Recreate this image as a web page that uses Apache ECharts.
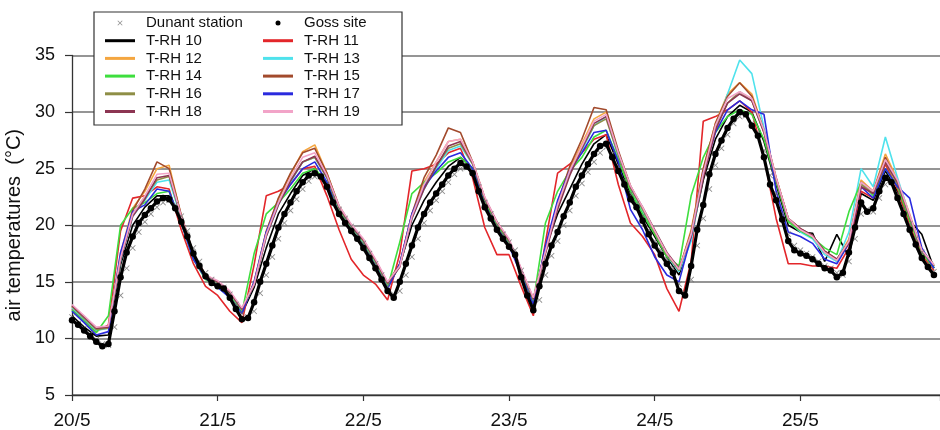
<!DOCTYPE html>
<html>
<head>
<meta charset="utf-8">
<script src="https://cdn.jsdelivr.net/npm/echarts@6/dist/echarts.min.js"></script>
<style>html,body{margin:0;padding:0;background:#fff;}#c{width:940px;height:430px;}</style>
</head>
<body>
<div id="c"></div>
<script>
// ---- DATA ----
const xTickLabels = ['20/5','21/5','22/5','23/5','24/5','25/5'];
const yTicks = [5,10,15,20,25,30,35];

// hours since 20/5 00:00, hourly (Goss / Dunant)
const hours1 = [0,1,2,3,4,5,6,7,8,9,10,11,12,13,14,15,16,17,18,19,20,21,22,23,
24,25,26,27,28,29,30,31,32,33,34,35,36,37,38,39,40,41,42,43,44,45,46,47,
48,49,50,51,52,53,54,55,56,57,58,59,60,61,62,63,64,65,66,67,68,69,70,71,
72,73,74,75,76,77,78,79,80,81,82,83,84,85,86,87,88,89,90,91,92,93,94,95,
96,97,98,99,100,101,102,103,104,105,106,107,108,109,110,111,112,113,114,115,116,117,118,119,
120,121,122,123,124,125,126,127,128,129,130,131,132,133,134,135,136,137,138,139,140,141,142];
// hours since 20/5 00:00, every 2 h (T-RH loggers)
const hours2 = [0,2,4,6,8,10,12,14,16,18,20,22,
24,26,28,30,32,34,36,38,40,42,44,46,
48,50,52,54,56,58,60,62,64,66,68,70,
72,74,76,78,80,82,84,86,88,90,92,94,
96,98,100,102,104,106,108,110,112,114,116,118,
120,122,124,126,128,130,132,134,136,138,140,142];

const gossSite = [
11.6,11.2,10.7,10.2,9.7,9.3,9.5,12.4,15.4,17.6,19.0,20.2,20.9,21.5,22.1,22.4,22.3,21.5,20.3,19.0,17.5,16.4,15.5,14.9,
14.6,14.4,13.6,12.6,11.7,11.8,13.2,15.0,16.6,18.2,19.8,21.0,22.0,23.0,23.8,24.4,24.6,24.3,23.4,22.0,21.0,20.2,19.5,18.8,
18.0,17.1,16.2,15.2,14.2,13.6,15.0,16.6,18.2,19.8,21.0,22.0,22.8,23.6,24.4,25.0,25.5,25.2,24.6,23.0,21.6,20.6,19.6,18.8,
18.1,17.4,15.4,13.8,12.5,14.6,16.6,18.2,19.4,20.8,22.0,23.4,24.4,25.4,26.3,27.0,27.2,26.0,24.8,23.6,22.3,21.6,20.4,19.2,
18.2,17.4,16.6,15.8,14.2,13.8,16.4,19.6,21.8,24.5,26.3,27.5,28.6,29.4,30.0,29.8,28.8,27.9,26.0,23.6,22.2,20.5,18.6,17.8,
17.5,17.3,17.0,16.6,16.2,16.0,15.4,15.8,17.6,19.8,22.0,21.2,21.5,23.0,24.2,23.8,22.4,21.0,19.6,18.3,17.1,16.3,15.6];

const dunantStation = [
11.9,11.3,10.9,10.4,9.9,9.5,9.4,11.0,13.8,16.2,18.0,19.4,20.3,21.0,21.6,22.0,22.2,21.8,20.8,19.5,18.0,16.8,15.8,15.2,
14.8,14.5,13.9,13.0,12.2,11.9,12.4,14.0,15.6,17.2,18.8,20.2,21.3,22.3,23.2,23.9,24.3,24.3,23.6,22.4,21.4,20.6,19.9,19.2,
18.4,17.5,16.6,15.6,14.6,13.9,14.2,15.6,17.2,18.8,20.2,21.3,22.2,23.0,23.8,24.5,25.0,25.1,24.7,23.4,22.0,21.0,20.0,19.2,
18.5,17.8,16.0,14.2,12.9,13.4,15.6,17.3,18.6,20.0,21.3,22.6,23.7,24.7,25.6,26.4,26.9,26.3,25.2,24.0,22.8,21.9,20.8,19.6,
18.6,17.8,17.0,16.2,14.8,14.0,15.2,18.2,20.6,23.2,25.3,26.8,28.0,29.0,29.6,29.7,29.0,28.2,26.6,24.4,22.8,21.0,19.2,18.2,
17.8,17.5,17.2,16.8,16.4,16.2,15.8,15.6,16.8,18.8,21.0,21.4,21.2,22.4,23.6,23.8,22.8,21.5,20.1,18.8,17.6,16.6,15.9];

const trh10 = [12.0,11.0,10.2,10.3,16.5,20.0,21.6,22.6,22.6,20.3,17.2,15.4,
14.8,13.9,12.2,14.5,18.0,21.0,22.8,24.4,25.0,23.6,21.0,19.6,
18.2,16.4,14.5,16.5,20.0,22.2,23.8,25.2,26.0,25.0,22.0,19.9,
18.4,15.8,13.0,18.0,21.0,23.2,25.4,27.2,28.0,25.4,22.8,20.8,
19.0,17.2,15.6,19.0,24.0,27.6,29.6,30.6,30.0,27.4,23.6,20.0,
19.4,19.3,16.8,19.2,17.2,22.8,22.2,24.8,23.0,20.4,19.2,16.2];
const trh11 = [12.6,11.6,10.6,11.2,19.5,22.4,22.6,23.4,23.2,19.6,16.6,14.6,
13.8,12.4,11.4,16.5,22.6,23.0,23.6,25.0,25.2,22.6,19.6,17.0,
15.6,14.8,13.4,17.5,24.8,25.0,25.4,26.4,26.8,24.2,19.8,17.4,
17.4,14.6,12.0,18.5,24.6,25.4,26.4,27.6,28.0,23.6,20.2,19.0,
17.4,14.4,12.4,16.8,29.2,29.6,30.2,31.0,30.0,26.0,20.6,16.6,
16.6,16.4,16.4,16.2,18.0,23.0,22.4,25.4,23.2,20.0,17.4,16.0];
const trh12 = [12.8,11.8,10.8,11.0,17.5,21.5,23.0,25.0,25.3,20.8,17.4,15.6,
14.9,14.0,12.5,15.0,19.5,22.3,24.5,26.5,27.1,24.6,21.6,19.9,
18.6,16.8,14.8,16.5,21.0,23.8,25.6,27.4,27.6,25.6,22.4,20.2,
18.6,16.0,13.4,18.0,22.0,25.0,27.2,29.4,30.0,26.4,23.4,21.4,
19.4,17.4,16.0,19.6,25.0,29.0,31.6,32.6,31.6,28.4,24.2,20.6,
19.6,19.0,17.6,16.9,18.8,24.0,23.0,26.3,24.0,21.0,17.8,16.4];
const trh13 = [12.7,11.7,10.7,10.9,16.8,20.8,22.2,23.8,24.0,20.6,17.3,15.4,
14.8,13.9,12.4,14.8,19.0,21.8,23.8,25.6,26.0,24.2,21.4,19.8,
18.5,16.7,14.7,16.4,20.6,23.2,25.0,26.6,27.0,25.4,22.3,20.1,
18.5,15.9,13.3,17.8,21.6,24.6,26.6,28.8,29.6,26.0,23.2,21.2,
19.3,17.3,15.9,18.6,24.4,28.6,31.6,34.6,33.4,28.6,24.0,20.4,
19.4,18.8,17.4,16.8,19.4,25.0,23.4,27.8,24.2,20.8,17.7,16.3];
const trh14 = [12.5,11.5,10.5,12.0,20.0,21.5,22.0,22.8,23.0,20.2,17.0,15.2,
14.6,13.7,12.3,17.5,21.0,22.0,23.2,24.6,25.0,23.8,21.2,19.6,
18.3,16.5,14.5,18.5,22.8,23.8,24.6,25.6,26.0,25.0,22.2,20.0,
18.4,15.8,13.2,20.2,23.0,24.8,26.0,27.8,28.4,25.8,23.0,21.0,
19.2,17.2,16.4,22.6,26.0,28.2,29.6,30.2,29.8,27.6,23.8,20.3,
19.5,18.9,18.0,17.4,21.2,23.8,22.6,25.0,23.4,20.4,17.6,16.2];
const trh15 = [12.9,11.9,10.9,11.0,17.2,21.3,23.2,25.6,25.0,20.9,17.5,15.6,
15.0,14.1,12.6,14.8,19.4,22.4,24.6,26.4,26.8,24.6,21.7,20.0,
18.7,16.9,14.9,16.6,21.0,24.2,26.2,28.6,28.2,25.6,22.4,20.3,
18.7,16.1,13.5,17.8,22.0,25.2,27.6,30.4,30.2,26.6,23.5,21.5,
19.5,17.5,16.1,19.4,25.0,29.0,31.4,32.6,31.4,28.4,24.2,20.6,
19.7,19.1,17.7,17.0,18.6,23.8,23.0,26.0,23.8,20.8,17.8,16.4];
const trh16 = [12.8,11.8,10.8,10.9,17.0,21.0,22.5,24.0,24.3,20.7,17.4,15.5,
14.9,14.0,12.5,14.9,19.2,22.0,24.0,25.6,26.0,24.2,21.5,19.9,
18.6,16.8,14.8,16.4,20.8,23.4,25.2,26.8,27.2,25.4,22.3,20.2,
18.6,16.0,13.4,17.6,21.6,24.6,26.8,28.8,29.4,26.2,23.3,21.4,
19.4,17.4,16.0,19.2,24.6,28.6,30.8,31.8,31.0,28.2,24.0,20.5,
19.6,19.0,17.6,16.9,18.6,23.6,22.8,25.6,23.6,20.7,17.7,16.4];
const trh17 = [12.4,11.4,10.3,10.6,17.6,21.2,21.8,23.2,23.0,20.2,17.0,15.3,
14.5,13.6,12.2,15.0,19.4,22.0,23.6,25.0,25.6,23.8,21.0,19.4,
18.2,16.4,14.4,16.6,21.0,23.4,24.8,26.0,26.4,25.0,21.8,19.8,
18.2,15.6,13.0,18.2,22.2,24.8,26.4,28.2,28.4,25.6,21.4,19.6,
17.2,15.6,15.0,19.0,24.6,28.2,30.2,31.0,30.2,29.8,23.0,19.4,
19.0,18.4,17.0,16.6,18.4,23.4,22.4,25.0,23.4,22.4,18.0,16.2];
const trh18 = [12.9,11.9,10.9,11.0,16.9,20.8,22.3,24.2,24.4,20.8,17.4,15.5,
15.0,14.1,12.6,14.7,19.0,21.8,23.9,25.6,26.1,24.3,21.6,20.0,
18.7,16.9,14.9,16.3,20.6,23.2,25.2,27.0,27.4,25.5,22.4,20.3,
18.7,16.1,13.5,17.5,21.4,24.4,26.8,29.0,29.6,26.4,23.4,21.6,
19.6,17.6,16.2,19.0,24.2,28.4,30.8,31.6,31.0,28.2,24.1,20.6,
19.7,19.1,17.7,17.0,18.4,23.4,22.8,25.6,23.8,20.8,17.8,16.5];
const trh19 = [13.0,12.0,11.0,11.1,17.1,21.0,22.6,24.5,24.6,20.8,17.5,15.6,
15.1,14.2,12.7,14.8,19.2,22.0,24.2,26.0,26.4,24.4,21.7,20.1,
18.8,17.0,15.0,16.4,20.8,23.6,25.6,27.4,27.6,25.6,22.5,20.3,
18.8,16.2,13.6,17.7,21.8,24.8,27.0,29.2,29.8,26.4,23.5,21.6,
19.5,17.5,16.1,19.2,24.6,28.8,31.2,31.8,31.2,28.4,24.2,20.6,
19.6,19.0,17.6,16.9,18.6,23.8,23.0,25.8,24.0,20.9,17.8,16.5];

const loggerNames = ['T-RH 10','T-RH 11','T-RH 12','T-RH 13','T-RH 14','T-RH 15','T-RH 16','T-RH 17','T-RH 18','T-RH 19'];
const loggerValues = [trh10,trh11,trh12,trh13,trh14,trh15,trh16,trh17,trh18,trh19];
const loggerColors = ['#000000','#e3262a','#f4a640','#4fe2ec','#3ede3e','#a24a2c','#8e8e46','#2a2ade','#8c3552','#f2a4c8'];

// ---- CHART ----
const FONT = "'Liberation Sans', Arial, sans-serif";
const crossPath = 'path://M0,1L1,0L5,4L9,0L10,1L6,5L10,9L9,10L5,6L1,10L0,9L4,5Z';
const barIcon = 'path://M0,0H30V3H0Z';

const series = [];
loggerNames.forEach((n, k) => {
  series.push({
    name: n, type: 'line', symbol: 'none', z: 2,
    lineStyle: { color: loggerColors[k], width: 1.6 },
    itemStyle: { color: loggerColors[k] },
    data: hours2.map((h, i) => [h, loggerValues[k][i]])
  });
});
series.push({
  name: 'Dunant station', type: 'scatter', symbol: crossPath, symbolSize: 6, z: 3,
  itemStyle: { color: '#6e6e6e' },
  data: hours1.map((h, i) => [h, dunantStation[i]])
});
series.push({
  name: 'Goss site', type: 'line', symbol: 'circle', symbolSize: 6.5, showSymbol: true, z: 4,
  lineStyle: { color: '#000', width: 3.2 },
  itemStyle: { color: '#000' },
  data: hours1.map((h, i) => [h, gossSite[i]])
});

const legendCommon = {
  orient: 'vertical', top: 15.5, padding: 0, itemWidth: 30, itemHeight: 5, itemGap: 2.7,
  selectedMode: false,
  textStyle: { fontFamily: FONT, fontSize: 15, color: '#111', lineHeight: 15, padding: [0, 0, 0, 6] }
};
const legendItem = n => ({ name: n, icon: barIcon });

const chart = echarts.init(document.getElementById('c'), null, { renderer: 'canvas' });
chart.setOption({
  animation: false,
  backgroundColor: '#fff',
  grid: { left: 72, right: 0, top: 55.5, bottom: 35, containLabel: false, outerBoundsMode: 'none' },
  xAxis: {
    type: 'value', min: 0, max: 143, interval: 24,
    axisLine: { show: true, lineStyle: { color: '#333', width: 1.3 } },
    axisTick: { show: true, length: 6, lineStyle: { color: '#333', width: 1.2 } },
    splitLine: { show: false },
    axisLabel: {
      margin: 16, fontFamily: FONT, fontSize: 19, color: '#111',
      formatter: v => (v % 24 === 0 && xTickLabels[v / 24] !== undefined) ? xTickLabels[v / 24] : ''
    }
  },
  yAxis: {
    type: 'value', min: yTicks[0], max: yTicks[yTicks.length - 1], interval: 5,
    name: 'air temperatures  (°C)', nameLocation: 'middle', nameGap: 43, nameRotate: 90,
    nameTextStyle: { fontFamily: FONT, fontSize: 20, color: '#111' },
    axisLine: { show: true, lineStyle: { color: '#333', width: 1.3 } },
    axisTick: { show: true, length: 7, lineStyle: { color: '#333', width: 1.2 } },
    splitLine: { show: true, lineStyle: { color: '#727272', width: 1.6 } },
    axisLabel: { margin: 17, fontFamily: FONT, fontSize: 18, color: '#111' }
  },
  graphic: [{
    type: 'rect', z: 3, silent: true,
    shape: { x: 94, y: 12, width: 308, height: 113 },
    style: { fill: '#fff', stroke: '#333', lineWidth: 1.2 }
  }],
  legend: [
    Object.assign({}, legendCommon, {
      left: 105,
      data: [{ name: 'Dunant station', icon: crossPath }].concat(['T-RH 10', 'T-RH 12', 'T-RH 14', 'T-RH 16', 'T-RH 18'].map(legendItem))
    }),
    Object.assign({}, legendCommon, {
      left: 263,
      data: [{ name: 'Goss site', icon: 'circle' }].concat(['T-RH 11', 'T-RH 13', 'T-RH 15', 'T-RH 17', 'T-RH 19'].map(legendItem))
    })
  ],
  series: series
});
</script>
</body>
</html>
